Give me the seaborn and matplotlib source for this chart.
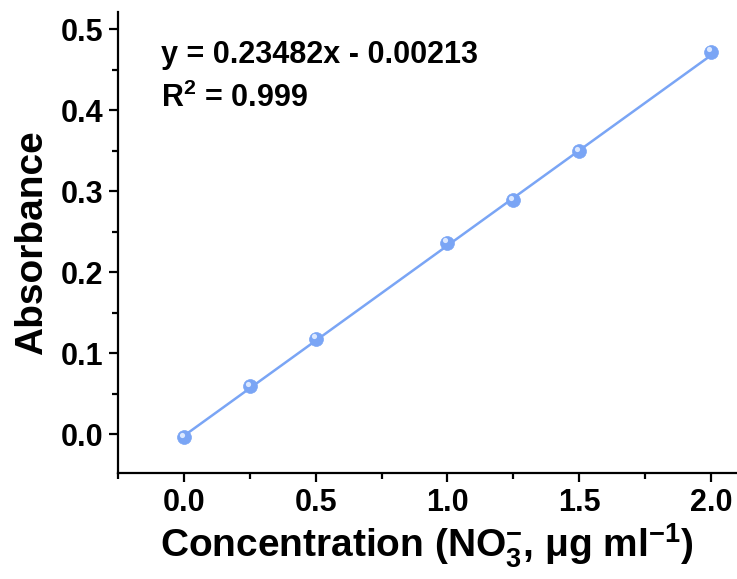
import matplotlib
matplotlib.use("Agg")
import matplotlib.pyplot as plt
import seaborn as sns
import numpy as np
import pandas as pd
from matplotlib.ticker import MultipleLocator

# Data
conc = [0.0, 0.25, 0.5, 1.0, 1.25, 1.5, 2.0]
absorb = [-0.004, 0.059, 0.118, 0.236, 0.289, 0.349, 0.472]
slope = 0.23482
intercept = -0.00213
r2_text = "0.999"
xticks = [0.0, 0.5, 1.0, 1.5, 2.0]
yticks = [0.0, 0.1, 0.2, 0.3, 0.4, 0.5]

sns.set_theme(style="ticks")
plt.rcParams['font.family'] = ['Liberation Sans', 'DejaVu Sans']
plt.rcParams['font.weight'] = 'bold'
plt.rcParams['text.color'] = 'black'
plt.rcParams['axes.labelcolor'] = 'black'
plt.rcParams['mathtext.fontset'] = 'custom'
plt.rcParams['mathtext.rm'] = 'Liberation Sans:bold'
plt.rcParams['mathtext.it'] = 'Liberation Sans:bold'
plt.rcParams['mathtext.bf'] = 'Liberation Sans:bold'
plt.rcParams['mathtext.default'] = 'rm'

color = "#7aa5f5"

fig = plt.figure(figsize=(7.37, 5.79), dpi=100)
ax = fig.add_axes([118/737, 1-473/579, 618/737, (473-12)/579])

df = pd.DataFrame({"x": conc, "y": absorb})
fit_x = np.array([conc[0], conc[-1]])
fit_df = pd.DataFrame({"x": fit_x, "y": slope * fit_x + intercept})

sns.lineplot(data=fit_df, x="x", y="y", ax=ax, color=color, lw=1.8)
sns.scatterplot(data=df, x="x", y="y", ax=ax, color=color, s=100, edgecolor=color,
                linewidth=0.5, zorder=3)
ax.scatter(np.array(conc) - 0.008, np.array(absorb) + 0.003, s=14, color="#dce8ff",
           zorder=4, linewidths=0)

ax.set_xlim(-0.25, 2.095)
ax.set_ylim(-0.048, 0.521)
ax.set_xticks(xticks)
ax.set_yticks(yticks)
ax.xaxis.set_minor_locator(MultipleLocator(0.25))
ax.yaxis.set_minor_locator(MultipleLocator(0.05))
ax.set_xticklabels([f"{v:.1f}" for v in xticks])
ax.set_yticklabels([f"{v:.1f}" for v in yticks])

for s in ["top", "right"]:
    ax.spines[s].set_visible(False)
for s in ["left", "bottom"]:
    ax.spines[s].set_linewidth(1.6)
    ax.spines[s].set_color("black")

ax.tick_params(which="major", direction="out", length=6.5, width=1.6, labelsize=22,
               colors="black", pad=4)
ax.tick_params(which="minor", direction="out", length=4, width=1.6, colors="black")

ax.set_xlabel("Concentration (NO$_3^{-}$, μg ml$^{-1}$)", fontsize=28, fontweight="bold", labelpad=3)
ax.set_ylabel("Absorbance", fontsize=28, fontweight="bold", labelpad=8)

ax.text(-0.087, 0.468, f"y = {slope}x - {abs(intercept):.5f}", transform=ax.transData,
        fontsize=22, fontweight="bold", va="center")
ax.text(-0.087, 0.415, "R$^2$ = " + r2_text, transform=ax.transData,
        fontsize=22, fontweight="bold", va="center")

fig.savefig("out.png", dpi=100)
